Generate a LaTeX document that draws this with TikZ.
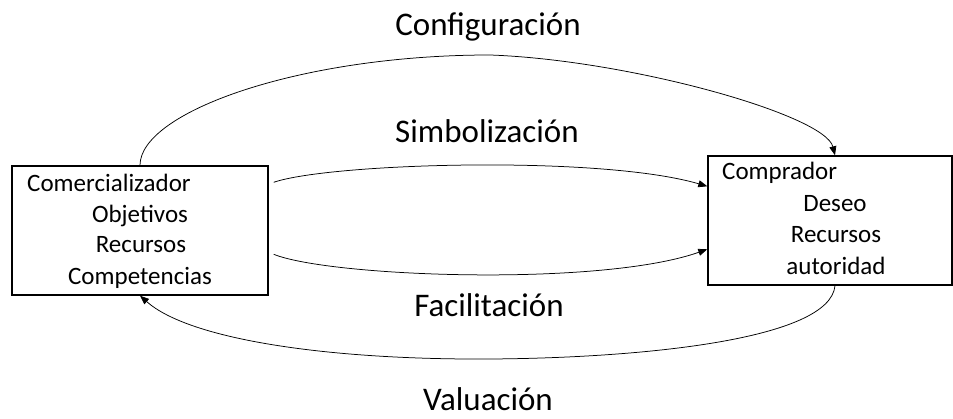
\documentclass[tikz,border=0pt]{standalone}
\usepackage{fontspec}
\setmainfont{Carlito}
\usetikzlibrary{arrows.meta,calc}
\begin{document}
\begin{tikzpicture}[x=1pt,y=-1pt,
  box/.style={draw=black,line width=1.4pt,minimum width=256pt,minimum height=129pt,inner sep=0pt},
  boxtext/.style={font=\fontsize{25}{30}\selectfont,inner sep=0pt},
  flowlabel/.style={font=\fontsize{33}{40}\selectfont,inner sep=0pt,anchor=base},
  flow/.style={draw=black,line width=0.75pt,-{Triangle[length=9pt,width=7pt]}}]
\useasboundingbox (0,0) rectangle (953,419);
% boxes
\node[box] (L) at (140,230.5) {};
\node[box,minimum width=244pt] (R) at (830,220.5) {};
% left box text
\node[boxtext,anchor=base west] (l1) at (27,192) {Comercializador};
\node[boxtext,anchor=base] (l2) at (140,223) {Objetivos};
\node[boxtext,anchor=base] (l3) at (141,253) {Recursos};
\node[boxtext,anchor=base] (l4) at (140,285) {Competencias};
% right box text
\node[boxtext,anchor=base west] (r1) at (722,180) {Comprador};
\node[boxtext,anchor=base] (r2) at (835,212) {Deseo};
\node[boxtext,anchor=base] (r3) at (836,243) {Recursos};
\node[boxtext,anchor=base] (r4) at (836,275) {autoridad};
% flow labels
\node[flowlabel] (cfg) at (488,36) {Configuración};
\node[flowlabel] (sim) at (487,143) {Simbolización};
\node[flowlabel] (fac) at (489,317) {Facilitación};
\node[flowlabel] (val) at (488,410) {Valuación};
% connectors
\draw[flow] (L.north) .. controls (140,112) and (300,55) .. (490,55)
  .. controls (630,60) and (825,115) .. ($(R.north)+(5,0)$);
\draw[flow] ($(L.north east)+(5,17)$) .. controls (330,163) and (600,155) .. ($(R.north west)+(0,31)$);
\draw[flow] ($(L.north east)+(5,89)$) .. controls (330,277) and (600,287) .. ($(R.north west)+(0,94)$);
\draw[flow] ($(R.south)+(5,0)$) .. controls (830,340) and (640,358) .. (490,359)
  .. controls (330,360) and (190,340) .. (L.south);
\end{tikzpicture}
\end{document}
